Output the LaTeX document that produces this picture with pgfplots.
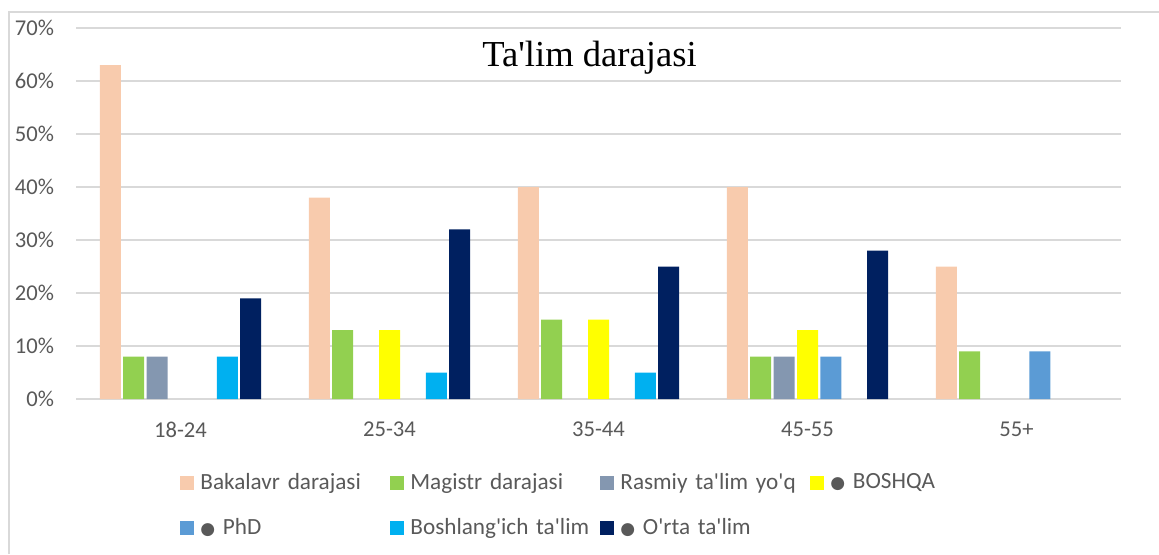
\documentclass[border=0pt]{standalone}
\usepackage{pgfplots}
\pgfplotsset{compat=1.18}
\usepackage{fontspec}
\setmainfont{Carlito}[Ligatures=TeXOff]
\newfontfamily\titlefont{Liberation Serif}[Ligatures=TeXOff]
\newfontfamily\dejavu{DejaVu Sans}
\definecolor{txt}{HTML}{595959}
\definecolor{gridc}{HTML}{D9D9D9}
\definecolor{cBak}{HTML}{F8CBAD}
\definecolor{cMag}{HTML}{92D050}
\definecolor{cRas}{HTML}{8497B0}
\definecolor{cBos}{HTML}{FFFF00}
\definecolor{cPhd}{HTML}{5B9BD5}
\definecolor{cBsh}{HTML}{00B0F0}
\definecolor{cOrt}{HTML}{002060}
\newcommand{\bul}{{\dejavu\fontsize{8.5pt}{8.5pt}\selectfont ●}}
\begin{document}
\begin{tikzpicture}
\path[use as bounding box] (0,0) rectangle (579.5pt,277pt);
\draw[gridc, line width=0.75pt] (4.5pt,0) -- (4.5pt,271pt) -- (579.5pt,271pt);
\begin{axis}[
  at={(38pt,77.5pt)}, anchor=south west,
  scale only axis, width=522.5pt, height=185.5pt,
  ybar=1.2pt, bar width=10.5pt,
  xmin=-0.5, xmax=4.5, ymin=0, ymax=70,
  enlargelimits=false,
  axis line style={draw=none},
  major tick length=0pt,
  ymajorgrids, major grid style={gridc, line width=0.75pt},
  xtick={0,1,2,3,4},
  xticklabels={18-24,25-34,35-44,45-55,55+},
  ytick={0,10,20,30,40,50,60,70},
  yticklabels={0\%,10\%,20\%,30\%,40\%,50\%,60\%,70\%},
  tick label style={font=\fontsize{11.3pt}{13pt}\selectfont, text=txt},
  yticklabel style={xshift=-7.5pt},
  xticklabel style={yshift=-8pt},
  legend image code/.code={\fill[#1] (0pt,-3.5pt) rectangle (7pt,3.5pt);},
  legend columns=4,
  legend style={draw=none, fill=none, at={(0,0)}, anchor=north west,
    xshift=52pt, yshift=-35pt, inner sep=0pt,
    font=\fontsize{11.6pt}{13.5pt}\selectfont, text=txt,
    row sep=9pt,
    nodes={inner xsep=3pt, inner ysep=2pt},
    /tikz/every even column/.append style={text width=92pt}},
  legend cell align=left,
]
\addplot[fill=cBak, draw=none] coordinates {(0,63) (1,38) (2,40) (3,40) (4,25)};
\addlegendentry{Bakalavr darajasi}
\addplot[fill=cMag, draw=none] coordinates {(0,8) (1,13) (2,15) (3,8) (4,9)};
\addlegendentry{Magistr darajasi}
\addplot[fill=cRas, draw=none] coordinates {(0,8) (3,8)};
\addlegendentry{Rasmiy ta'lim yo'q}
\addplot[fill=cBos, draw=none] coordinates {(1,13) (2,15) (3,13)};
\addlegendentry{\bul{} BOSHQA}
\addplot[fill=cPhd, draw=none] coordinates {(3,8) (4,9)};
\addlegendentry{\bul{} PhD}
\addplot[fill=cBsh, draw=none] coordinates {(0,8) (1,5) (2,5)};
\addlegendentry{Boshlang'ich ta'lim}
\addplot[fill=cOrt, draw=none] coordinates {(0,19) (1,32) (2,25) (3,28)};
\addlegendentry{\bul{} O'rta ta'lim}
\end{axis}
\node[font=\titlefont\fontsize{18.3pt}{20pt}\selectfont, text=black] at (294.75pt,248pt) {Ta'lim darajasi};
\end{tikzpicture}
\end{document}
